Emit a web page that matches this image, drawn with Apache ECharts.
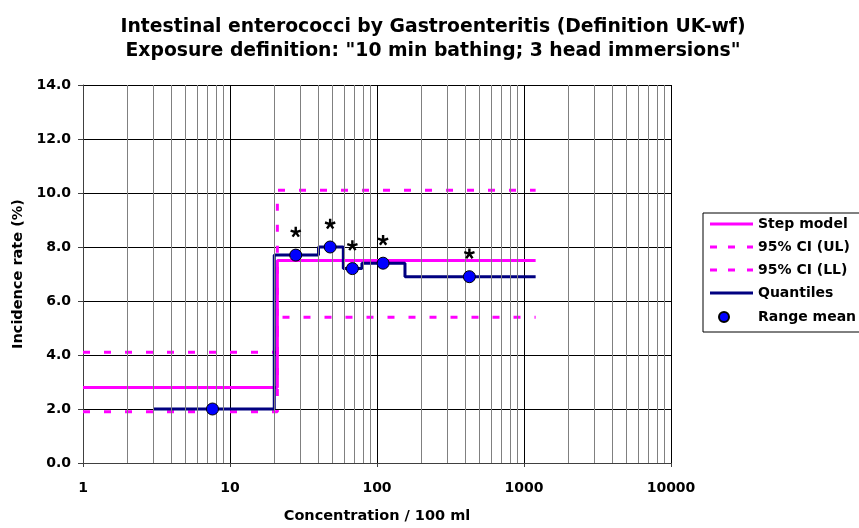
<!DOCTYPE html>
<html>
<head>
<meta charset="utf-8">
<script src="https://cdn.jsdelivr.net/npm/echarts@6/dist/echarts.min.js"></script>
<style>html,body{margin:0;padding:0;background:#fff;}#c{width:859px;height:528px;}</style>
</head>
<body>
<div id="c"></div>
<script>
// ---- data ----
var titleLines = ['Intestinal enterococci by Gastroenteritis (Definition UK-wf)', 'Exposure definition: "10 min bathing; 3 head immersions"'];
var seriesNames = ['Step model', '95% CI (UL)', '95% CI (LL)', 'Quantiles', 'Range mean'];
// step model: breakpoints (x) and levels (y)
var stepX = [1, 21, 1200];
var stepY = [2.8, 7.5, 7.5];
var ulY = [4.1, 10.1, 10.1];
var llY = [1.9, 5.4, 5.4];
// quantiles step function
var quantX = [3, 20, 40, 59, 79, 155, 1200];
var quantY = [2.0, 7.7, 8.0, 7.2, 7.4, 6.9, 6.9];
// range means
var meanX = [7.6, 28, 48, 68, 110, 425];
var meanY = [2.0, 7.7, 8.0, 7.2, 7.4, 6.9];
var meanSig = [false, true, true, true, true, true];
var yTicks = [0, 2, 4, 6, 8, 10, 12, 14];
var xDecades = [1, 10, 100, 1000, 10000];

function pairs(xs, ys) { return xs.map(function (x, i) { return [x, ys[i]]; }); }
var minorX = [];
for (var d = 0; d < xDecades.length - 1; d++) {
  for (var m = 2; m <= 9; m++) minorX.push(xDecades[d] * m);
}

// asterisk marker path (5 arms)
function asteriskPath() {
  var L = 6, h = 1.35, s = 'path://';
  for (var k = 0; k < 5; k++) {
    var a = (-90 + 72 * k) * Math.PI / 180, c = Math.cos(a), sn = Math.sin(a);
    var pts = [[-0.5, -h], [L, -h], [L, h], [-0.5, h]].map(function (p) {
      return [(p[0] * c - p[1] * sn).toFixed(3), (p[0] * sn + p[1] * c).toFixed(3)];
    });
    s += 'M' + pts[0].join(',') + 'L' + pts[1].join(',') + 'L' + pts[2].join(',') + 'L' + pts[3].join(',') + 'Z';
  }
  return s;
}

var FONT = '"DejaVu Sans", sans-serif';
var ICON_SOLID = 'path://M0,0M43,14M0,5.5L43,5.5L43,8.5L0,8.5Z';
var ICON_DASH = 'path://M0,0M43,14M0,5.5L7,5.5L7,8.5L0,8.5ZM18,5.5L25,5.5L25,8.5L18,8.5ZM37,5.5L43,5.5L43,8.5L37,8.5Z';
var ICON_DOT = 'path://M0,0M43,14M19,7A5,5,0,1,1,9,7A5,5,0,1,1,19,7Z';
var legendIcons = [ICON_SOLID, ICON_DASH, ICON_DASH, ICON_SOLID, ICON_DOT];

var sigPoints = [];
meanX.forEach(function (x, i) { if (meanSig[i]) sigPoints.push([x, meanY[i]]); });

var chart = echarts.init(document.getElementById('c'), null, {renderer: 'canvas'});
var option = {
  animation: false,
  backgroundColor: '#fff',
  textStyle: {fontFamily: FONT},
  title: {
    text: titleLines.join('\n'),
    left: 428, top: 10, textAlign: 'center',
    textStyle: {fontFamily: FONT, fontSize: 18.8, fontWeight: 'bold', color: '#000', lineHeight: 24}
  },
  grid: {left: 83, right: 188, top: 85, bottom: 65, containLabel: false, outerBoundsMode: 'none'},
  legend: {
    orient: 'vertical', left: 703, top: 213,
    data: seriesNames.map(function (n, i) {
      return i < 4 ? {name: n, icon: legendIcons[i], itemStyle: {borderWidth: 0}} : {name: n, icon: legendIcons[i], itemStyle: {opacity: 1}};
    }),
    itemWidth: 43, itemHeight: 14, itemGap: 9,
    symbolKeepAspect: false,
    padding: [4, 40, 7, 6],
    borderColor: '#000', borderWidth: 1,
    textStyle: {fontFamily: FONT, fontSize: 14, fontWeight: 'bold', color: '#000', lineHeight: 14}
  },
  xAxis: {
    type: 'log', logBase: 10, min: 1, max: 10000,
    name: 'Concentration / 100 ml', nameLocation: 'middle', nameGap: 46,
    nameTextStyle: {fontFamily: FONT, fontSize: 14.5, fontWeight: 'bold', color: '#000'},
    axisLine: {show: true, lineStyle: {color: '#404040', width: 1}},
    axisTick: {show: true, length: 4, inside: false, lineStyle: {color: '#404040'}},
    axisLabel: {fontFamily: FONT, fontSize: 14, fontWeight: 'bold', color: '#000', margin: 18,
      formatter: function (v) { return String(Math.round(v)); }},
    splitLine: {show: true, lineStyle: {color: '#000', width: 1}}
  },
  yAxis: {
    type: 'value', min: 0, max: 14, interval: 2,
    name: 'Incidence rate (%)', nameLocation: 'middle', nameGap: 57, nameRotate: 90,
    nameTextStyle: {fontFamily: FONT, fontSize: 14.5, fontWeight: 'bold', color: '#000'},
    axisLine: {show: true, lineStyle: {color: '#404040', width: 1}},
    axisTick: {show: true, length: 5, lineStyle: {color: '#404040'}},
    axisLabel: {fontFamily: FONT, fontSize: 14, fontWeight: 'bold', color: '#000', margin: 12,
      formatter: function (v) { return v.toFixed(1); }},
    splitLine: {show: true, lineStyle: {color: '#000', width: 1}}
  },
  series: [
    {
      name: 'minor', type: 'line', data: [], z: 1, silent: true,
      markLine: {silent: true, symbol: 'none', animation: false, label: {show: false},
        lineStyle: {color: '#808080', width: 1, type: 'solid'},
        data: minorX.map(function (v) { return {xAxis: v}; })}
    },
    {name: seriesNames[0], type: 'line', step: 'end', symbol: 'none', data: pairs(stepX, stepY),
      lineStyle: {color: '#FF00FF', width: 3}, itemStyle: {color: '#FF00FF'}},
    {name: seriesNames[1], type: 'line', step: 'end', symbol: 'none', data: pairs(stepX, ulY),
      lineStyle: {color: '#FF00FF', width: 3, type: [7, 14]}, itemStyle: {color: '#FF00FF'}},
    {name: seriesNames[2], type: 'line', step: 'end', symbol: 'none', data: pairs(stepX, llY),
      lineStyle: {color: '#FF00FF', width: 3, type: [7, 14]}, itemStyle: {color: '#FF00FF'}},
    {name: seriesNames[3], type: 'line', step: 'end', symbol: 'none', data: pairs(quantX, quantY),
      lineStyle: {color: '#000080', width: 3}, itemStyle: {color: '#000080'}},
    {name: seriesNames[4], type: 'scatter', symbol: 'circle', symbolSize: 12, z: 5,
      data: pairs(meanX, meanY),
      itemStyle: {color: '#0000FF', borderColor: '#000', borderWidth: 1, opacity: 1}},
    {name: 'significance', type: 'scatter', symbol: asteriskPath(), symbolSize: 11, symbolKeepAspect: true,
      symbolOffset: [0, -23], z: 6, silent: true, data: sigPoints,
      itemStyle: {color: '#000', borderWidth: 0, opacity: 1}}
  ]
};
chart.setOption(option);
</script>
</body>
</html>
